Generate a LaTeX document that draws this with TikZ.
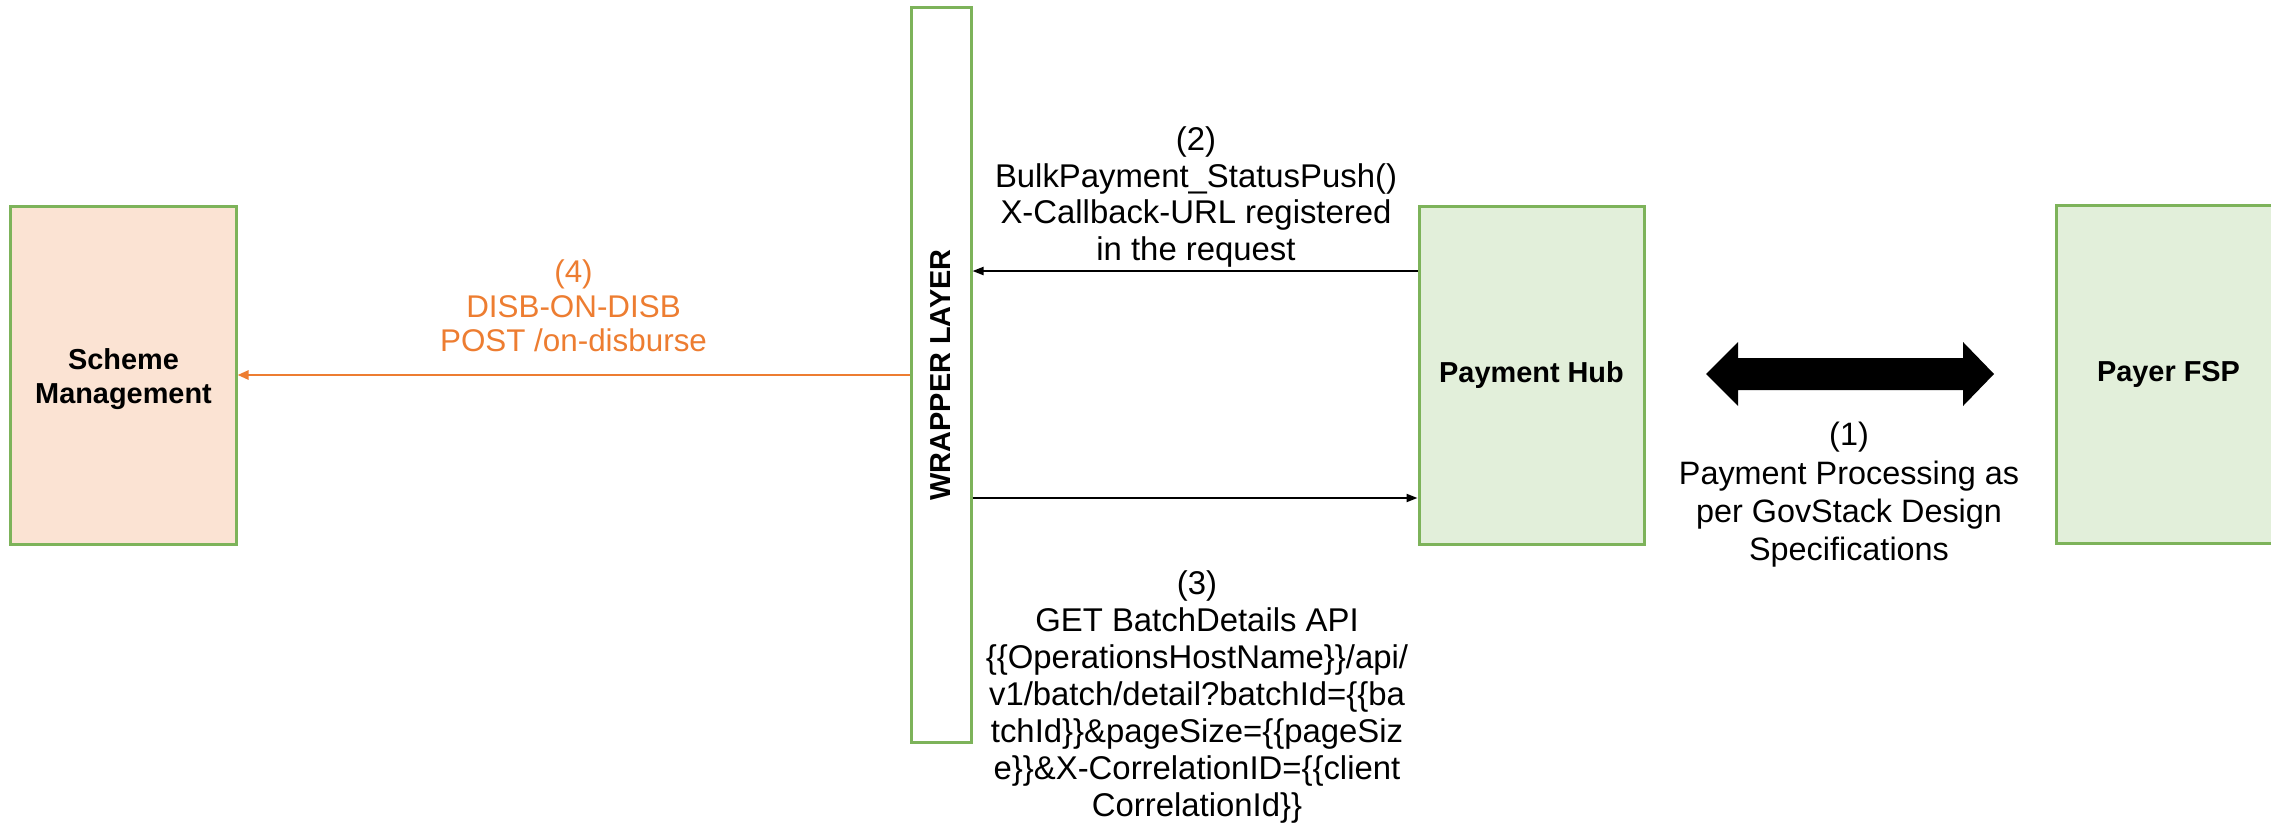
\documentclass[tikz,border=0pt]{standalone}
\usepackage{fontspec}
\setmainfont{Liberation Sans}
\usetikzlibrary{arrows.meta}
\definecolor{boxgreen}{HTML}{7DB35A}
\definecolor{greenfill}{HTML}{E2EFDA}
\definecolor{peachfill}{HTML}{FBE3D3}
\definecolor{floworange}{HTML}{ED7D31}
\begin{document}
\begin{tikzpicture}[x=1bp,y=1bp,
  sysbox/.style={draw=boxgreen, line width=3bp, minimum width=225bp, minimum height=338bp,
    inner sep=0pt, align=center, font=\fontsize{29}{34}\selectfont\bfseries},
  boxtitle/.style={align=center, inner sep=0pt, font=\fontsize{29}{34}\selectfont\bfseries},
  blackflow/.style={draw=black, line width=2bp, -{Triangle[length=11bp,width=8bp]}},
  orangeflow/.style={draw=floworange, line width=2.5bp, -{Triangle[length=11bp,width=9bp]}},
  msg/.style={align=center, inner sep=0pt, font=\fontsize{33}{37}\selectfont},
]
\useasboundingbox (0,0) rectangle (2271,-833);
\clip (0,0) rectangle (2271,-833);

% systems
\node[sysbox, fill=peachfill,
  label={[boxtitle, yshift=-4bp]center:Scheme\\Management}] (scheme) at (123.5,-375) {};
\node[sysbox, fill=greenfill] (hub) at (1531.5,-375) {Payment Hub};
\node[sysbox, fill=greenfill] (fsp) at (2168.5,-374) {Payer FSP};
\node[draw=boxgreen, line width=3bp, minimum width=60bp, minimum height=734bp, inner sep=0pt,
  label={[rotate=90, boxtitle]center:WRAPPER LAYER}]
  (wrap) at (941,-375) {};

% (4) callback towards scheme management
\draw[orangeflow] (wrap.west) -- (scheme.east);
\node[msg, text=floworange, font=\fontsize{31.5}{34.5}\selectfont] (l4) at (573.5,-306)
  {(4)\\DISB-ON-DISB\\POST /on-disburse};

% (2) status push from payment hub
\draw[blackflow] ([yshift=104bp]hub.west) -- ([yshift=104bp]wrap.east);
\node[msg] (l2) at (1196,-197)
  {(2)\\BulkPayment\_StatusPush()\\X-Callback-URL registered\\in the request};

% (3) batch details request
\draw[blackflow] ([yshift=-123bp]wrap.east) -- ([yshift=-123bp]hub.west);
\node[msg] (l3) at (1197,-697)
  {(3)\\GET BatchDetails API\\\{\{OperationsHostName\}\}/api/\\v1/batch/detail?batchId=\{\{ba\\tchId\}\}\&pageSize=\{\{pageSiz\\e\}\}\&X-CorrelationID=\{\{client\\CorrelationId\}\}};

% (1) payment processing between hub and payer FSP
\fill (1706,-374) -- (1738,-342) -- (1738,-358) -- (1963,-358) -- (1963,-342)
  -- (1994,-374) -- (1963,-406) -- (1963,-390) -- (1738,-390) -- (1738,-406) -- cycle;
\node[msg, font=\fontsize{32.5}{38.5}\selectfont] (l1) at (1849,-495)
  {(1)\\Payment Processing as\\per GovStack Design\\Specifications};
\end{tikzpicture}
\end{document}
